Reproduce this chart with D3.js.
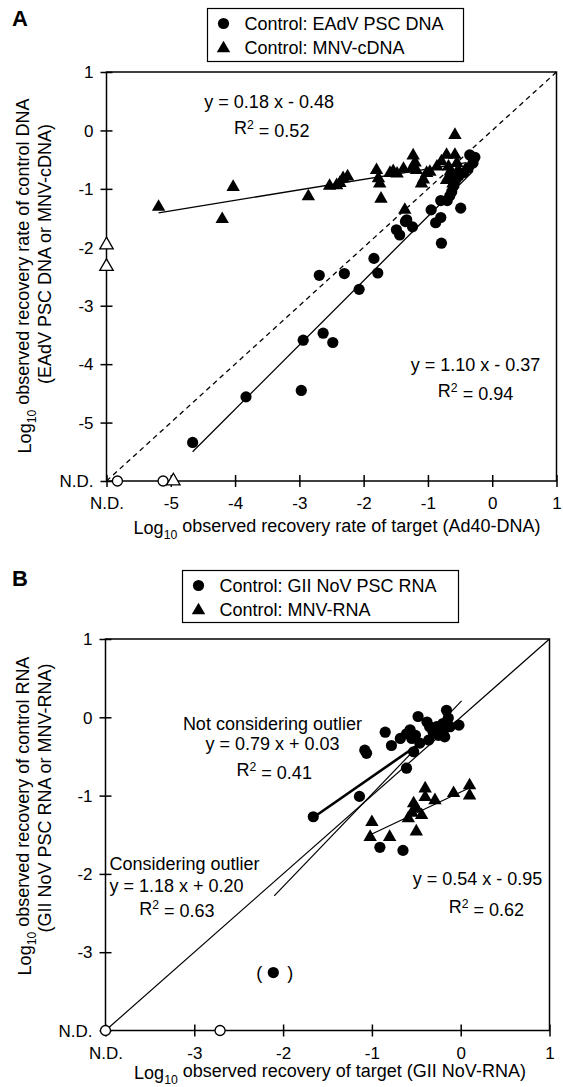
<!DOCTYPE html>
<html lang="en">
<head>
<meta charset="UTF-8">
<title>Recovery of controls vs targets</title>
<script src="https://d3js.org/d3.v7.min.js"></script>
<style>
    * { margin: 0; padding: 0; box-sizing: border-box; }
    body { background: #fff; font-family: Arial, "Liberation Sans", sans-serif; }
    svg text { font-family: Arial, "Liberation Sans", sans-serif; fill: #000; }
</style>
</head>
<body>
<div id="chart"></div>
<script>
    // ---------- panel A data (log10 values, N.D. plotted at -6) ----------
    const ND_A = -6;
    const aTicks = [-6, -5, -4, -3, -2, -1, 0, 1];
    const aCircles = [
        [-4.66, -5.34], [-3.83, -4.56], [-2.97, -4.45], [-2.94, -3.59], [-2.63, -3.47],
        [-2.48, -3.63], [-2.69, -2.48], [-2.30, -2.45], [-2.07, -2.72], [-1.78, -2.44],
        [-1.84, -2.19], [-1.49, -1.70], [-1.44, -1.79], [-1.35, -1.56], [-1.24, -1.65],
        [-1.33, -1.53], [-0.95, -1.36], [-0.88, -1.58], [-0.80, -1.49], [-0.80, -1.20],
        [-0.79, -1.93], [-0.49, -1.33], [-0.70, -1.20], [-0.66, -1.12], [-0.63, -1.05],
        [-0.60, -0.95], [-0.57, -0.85], [-0.52, -0.78], [-0.44, -0.72], [-0.37, -0.64],
        [-0.30, -0.56], [-0.27, -0.46], [-0.35, -0.42]
    ];
    const aTriangles = [
        [-5.19, -1.31], [-4.03, -0.97], [-4.20, -1.52], [-2.86, -1.13], [-2.53, -0.95],
        [-2.42, -0.94], [-2.37, -0.90], [-2.32, -0.82], [-2.25, -0.79], [-1.80, -0.68],
        [-1.77, -0.82], [-1.75, -0.91], [-1.73, -1.17], [-1.59, -0.73], [-1.54, -0.70],
        [-1.48, -0.74], [-1.38, -0.66], [-1.23, -0.43], [-1.20, -0.55], [-1.25, -0.65],
        [-1.18, -0.68], [-1.10, -0.91], [-1.07, -0.84], [-1.02, -0.73], [-1.36, -1.36],
        [-0.97, -0.71], [-0.86, -0.62], [-0.79, -0.53], [-0.71, -0.42], [-0.68, -0.62],
        [-0.58, -0.42], [-0.55, -0.56], [-0.63, -0.76], [-0.53, -0.68], [-0.71, -0.85],
        [-0.61, -0.91], [-0.58, -0.08], [-0.60, -0.80], [-0.65, -0.70]
    ];
    const aOpenCircles = [[-5.83, ND_A], [-5.12, ND_A]];
    const aOpenTriangles = [[-4.96, ND_A], [ND_A, -1.96], [ND_A, -2.33]];
    const aFitTri = [[-5.19, -1.41], [-0.40, -0.55]];
    const aFitCirc = [[-4.66, -5.50], [-0.30, -0.70]];
    const aOneToOne = [[-6, -6], [1, 1]];

    // ---------- panel B data (N.D. plotted at -4) ----------
    const ND_B = -4;
    const bTicks = [-4, -3, -2, -1, 0, 1];
    const bCircles = [
        [-1.66, -1.27], [-1.14, -1.01], [-1.08, -0.42], [-1.06, -0.46], [-0.85, -0.19],
        [-0.78, -0.36], [-0.68, -0.27], [-0.61, -0.21], [-0.57, -0.16], [-0.55, -0.27],
        [-0.51, -0.23], [-0.48, 0.01], [-0.46, -0.33], [-0.53, -0.44], [-0.61, -0.65],
        [-0.38, -0.06], [-0.35, -0.12], [-0.31, -0.19], [-0.25, -0.23], [-0.20, -0.08],
        [-0.16, 0.09], [-0.14, -0.01], [-0.20, -0.19], [-0.18, -0.25], [-0.02, -0.10],
        [-0.12, -0.12], [-0.27, -0.12], [-0.36, -0.29], [-0.91, -1.66], [-0.65, -1.70]
    ];
    const bOutlier = [[-2.11, -3.26]];
    const bTriangles = [
        [-1.00, -1.34], [-1.02, -1.53], [-0.80, -1.53], [-0.59, -1.29], [-0.53, -1.10],
        [-0.50, -1.16], [-0.44, -1.25], [-0.50, -1.46], [-0.40, -0.91], [-0.40, -1.02],
        [-0.29, -1.06], [-0.08, -0.97], [0.10, -0.87], [0.10, -1.00], [-0.55, -1.22]
    ];
    const bOpenCircles = [[ND_B, ND_B], [-2.71, ND_B]];
    const bFitNoOutlier = [[-1.66, -1.28], [-0.10, -0.05]];
    const bFitOutlier = [[-2.10, -2.28], [0.01, 0.21]];
    const bFitTri = [[-1.00, -1.49], [0.12, -0.89]];
    const bOneToOne = [[-4, -4], [1, 1]];

    const svg = d3.select("#chart").append("svg")
        .attr("width", 563).attr("height", 1087);

    const tri = d3.symbol().type(d3.symbolTriangle).size(78);

    function drawAxes(g, x, y, ticks, nd) {
        const [x0, x1] = x.range();
        const [y0, y1] = y.range();
        const fmt = d => d === nd ? "N.D." : String(d);

        g.append("rect")
            .attr("x", x0).attr("y", y1)
            .attr("width", x1 - x0).attr("height", y0 - y1)
            .attr("fill", "none").attr("stroke", "#000").attr("stroke-width", 1.5);

        g.append("g")
            .attr("transform", `translate(0,${y0})`)
            .call(d3.axisBottom(x).tickValues(ticks).tickSize(6).tickSizeOuter(0).tickFormat(fmt))
            .call(a => a.select(".domain").remove())
            .call(a => a.selectAll(".tick line").attr("y1", -6).attr("y2", 6)
                .attr("stroke", "#000").attr("stroke-width", 1.5))
            .call(a => a.selectAll(".tick text").attr("y", 16).attr("dy", "0.71em")
                .style("font-size", "17px"));

        g.append("g")
            .attr("transform", `translate(${x0},0)`)
            .call(d3.axisLeft(y).tickValues(ticks).tickSize(6).tickSizeOuter(0).tickFormat(fmt))
            .call(a => a.select(".domain").remove())
            .call(a => a.selectAll(".tick line").attr("x1", -6).attr("x2", 6)
                .attr("stroke", "#000").attr("stroke-width", 1.5))
            .call(a => a.selectAll(".tick text").attr("x", -13).attr("dy", "0.34em")
                .style("font-size", "17px"));
    }

    function drawLine(g, x, y, pts, width, dash) {
        g.append("path")
            .datum(pts)
            .attr("d", d3.line().x(d => x(d[0])).y(d => y(d[1])))
            .attr("fill", "none").attr("stroke", "#000")
            .attr("stroke-width", width)
            .attr("stroke-dasharray", dash || null);
    }

    function drawPoints(g, x, y, pts, shape, open) {
        const sel = g.append("g").selectAll("path").data(pts).join("path")
            .attr("transform", d => `translate(${x(d[0])},${y(d[1])})`)
            .attr("fill", open ? "#fff" : "#000")
            .attr("stroke", "#000")
            .attr("stroke-width", open ? 1.3 : 0);
        if (shape === "circle") {
            sel.attr("d", d3.arc()({ innerRadius: 0, outerRadius: open ? 5 : 5.6, startAngle: 0, endAngle: 2 * Math.PI }));
        } else {
            sel.attr("d", tri());
        }
    }

    function legend(g, bx, by, bw, bh, labels) {
        g.append("rect").attr("x", bx).attr("y", by).attr("width", bw).attr("height", bh)
            .attr("fill", "#fff").attr("stroke", "#000").attr("stroke-width", 1.2);
        labels.forEach((lab, i) => {
            const cy = by + 15 + i * 24;
            if (i === 0) {
                g.append("circle").attr("cx", bx + 16).attr("cy", cy).attr("r", 5.6).attr("fill", "#000");
            } else {
                g.append("path").attr("transform", `translate(${bx + 16},${cy + 1})`).attr("d", tri());
            }
            g.append("text").attr("x", bx + 37).attr("y", cy).attr("dy", "0.35em")
                .style("font-size", "18px").text(lab);
        });
    }

    function textAt(g, px, py, anchor, size, parts) {
        const t = g.append("text").attr("x", px).attr("y", py).attr("dy", "0.35em")
            .attr("text-anchor", anchor).style("font-size", size + "px");
        parts.forEach(p => {
            if (p.sup) {
                t.append("tspan").attr("dy", "-0.45em").style("font-size", (size * 0.68) + "px").text(p.sup);
                t.append("tspan").attr("dy", "0.45em").text(p.t || "");
            } else if (p.sub) {
                t.append("tspan").attr("dy", "0.35em").style("font-size", (size * 0.68) + "px").text(p.sub);
                t.append("tspan").attr("dy", "-0.35em").text(p.t || "");
            } else {
                t.append("tspan").text(p.t);
            }
        });
        return t;
    }

    function yTitle(g, cx, cy, parts) {
        const t = textAt(g, 0, 0, "middle", 18, parts);
        t.attr("transform", `translate(${cx},${cy}) rotate(-90)`);
    }

    // ================= Panel A =================
    const gA = svg.append("g");
    const xA = d3.scaleLinear().domain([-6, 1]).range([106.5, 556.5]);
    const yA = d3.scaleLinear().domain([-6, 1]).range([481, 72]);

    gA.append("text").attr("x", 12).attr("y", 26).style("font-size", "22px")
        .style("font-weight", "bold").text("A");
    legend(gA, 207.5, 8.5, 256, 53, ["Control: EAdV PSC DNA", "Control: MNV-cDNA"]);

    drawAxes(gA, xA, yA, aTicks, ND_A);
    drawLine(gA, xA, yA, aOneToOne, 1.3, "5,4");
    drawLine(gA, xA, yA, aFitTri, 1.3);
    drawLine(gA, xA, yA, aFitCirc, 1.3);
    drawPoints(gA, xA, yA, aCircles, "circle", false);
    drawPoints(gA, xA, yA, aTriangles, "triangle", false);
    drawPoints(gA, xA, yA, aOpenCircles, "circle", true);
    drawPoints(gA, xA, yA, aOpenTriangles, "triangle", true);

    textAt(gA, xA(-3.47), yA(0.49), "middle", 18, [{ t: "y = 0.18 x - 0.48" }]);
    textAt(gA, xA(-3.43), yA(0.04), "middle", 18, [{ t: "R" }, { sup: "2", t: " = 0.52" }]);
    textAt(gA, xA(-0.26), yA(-4.01), "middle", 18, [{ t: "y = 1.10 x - 0.37" }]);
    textAt(gA, xA(-0.26), yA(-4.46), "middle", 18, [{ t: "R" }, { sup: "2", t: "  = 0.94" }]);

    textAt(gA, 337, 528, "middle", 18,
        [{ t: "Log" }, { sub: "10", t: " observed recovery rate of target (Ad40-DNA)" }]);
    yTitle(gA, 25, 276, [{ t: "Log" }, { sub: "10", t: " observed recovery rate of control DNA" }]);
    yTitle(gA, 45, 254, [{ t: "(EAdV PSC DNA or MNV-cDNA)" }]);

    // ================= Panel B =================
    const gB = svg.append("g");
    const xB = d3.scaleLinear().domain([-4, 1]).range([105.5, 549.5]);
    const yB = d3.scaleLinear().domain([-4, 1]).range([1030.5, 639]);

    gB.append("text").attr("x", 12).attr("y", 586).style("font-size", "22px")
        .style("font-weight", "bold").text("B");
    legend(gB, 182.5, 570.5, 276, 52, ["Control: GII NoV PSC RNA", "Control: MNV-RNA"]);

    drawAxes(gB, xB, yB, bTicks, ND_B);
    drawLine(gB, xB, yB, bOneToOne, 1.2);
    drawLine(gB, xB, yB, bFitOutlier, 1.2);
    drawLine(gB, xB, yB, bFitNoOutlier, 2.6);
    drawLine(gB, xB, yB, bFitTri, 1.2);
    drawPoints(gB, xB, yB, bCircles, "circle", false);
    drawPoints(gB, xB, yB, bOutlier, "circle", false);
    drawPoints(gB, xB, yB, bTriangles, "triangle", false);
    drawPoints(gB, xB, yB, bOpenCircles, "circle", true);

    textAt(gB, xB(bOutlier[0][0]) - 14, yB(bOutlier[0][1]), "middle", 18, [{ t: "(" }]);
    textAt(gB, xB(bOutlier[0][0]) + 17, yB(bOutlier[0][1]), "middle", 18, [{ t: ")" }]);

    textAt(gB, xB(-2.12), yB(-0.08), "middle", 18, [{ t: "Not considering outlier" }]);
    textAt(gB, xB(-2.12), yB(-0.34), "middle", 18, [{ t: "y = 0.79 x + 0.03" }]);
    textAt(gB, xB(-2.10), yB(-0.67), "middle", 18, [{ t: "R" }, { sup: "2", t: " = 0.41" }]);
    textAt(gB, xB(-3.955), yB(-1.87), "start", 18, [{ t: "Considering outlier" }]);
    textAt(gB, xB(-3.955), yB(-2.15), "start", 18, [{ t: "y = 1.18 x + 0.20" }]);
    textAt(gB, xB(-3.62), yB(-2.44), "start", 18, [{ t: "R" }, { sup: "2", t: " = 0.63" }]);
    textAt(gB, xB(0.19), yB(-2.06), "middle", 18, [{ t: "y = 0.54 x - 0.95" }]);
    textAt(gB, xB(0.29), yB(-2.42), "middle", 18, [{ t: "R" }, { sup: "2", t: " = 0.62" }]);

    textAt(gB, 330, 1073, "middle", 18,
        [{ t: "Log" }, { sub: "10", t: " observed recovery of target (GII NoV-RNA)" }]);
    yTitle(gB, 25, 816, [{ t: "Log" }, { sub: "10", t: " observed recovery of control RNA" }]);
    yTitle(gB, 45, 798, [{ t: "(GII NoV PSC RNA or MNV-RNA)" }]);
</script>
</body>
</html>
